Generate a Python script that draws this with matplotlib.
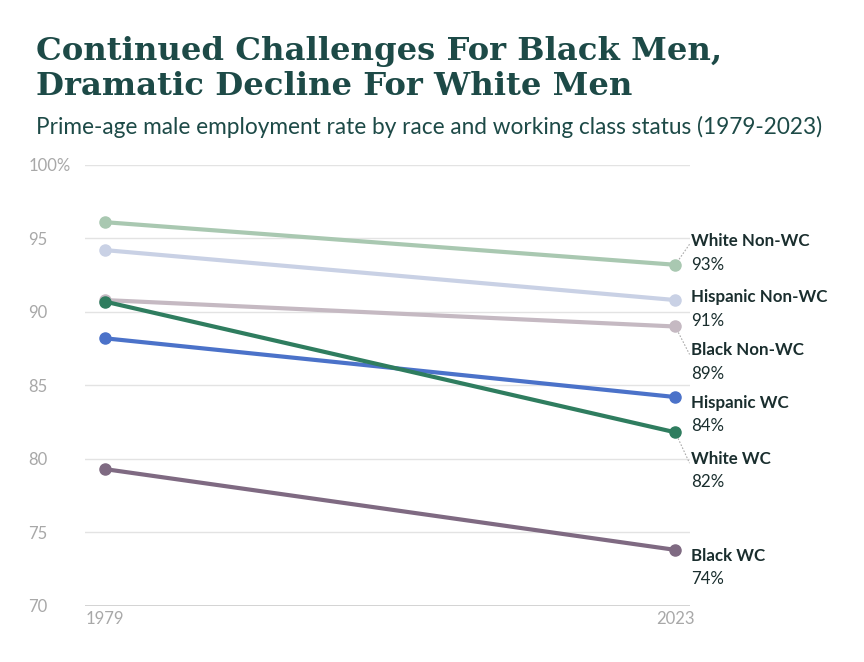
import matplotlib
matplotlib.use("Agg")
import matplotlib.pyplot as plt

years = [1979, 2023]
groups = ["White Non-WC", "Hispanic Non-WC", "Black Non-WC", "Hispanic WC", "White WC", "Black WC"]
v1979 = [96.1, 94.2, 90.8, 88.2, 90.7, 79.3]
v2023 = [93.2, 90.8, 89.0, 84.2, 81.8, 73.8]
colors = ["#a9c8b1", "#c9d1e5", "#c5b9c2", "#4b72c9", "#2f7d5f", "#7f6a82"]
label_y = [94.8, 91.0, 87.4, 83.8, 80.0, 73.4]

fig = plt.figure(figsize=(8.64, 6.62), dpi=100)
ax = fig.add_axes([0.098, 0.085, 0.701, 0.666])
ax.set_xlim(1977.46, 2024.16)
ax.set_ylim(70, 100)

for y in range(75, 101, 5):
    ax.axhline(y, color="#e3e3e3", lw=1, zorder=0)
ax.axhline(70, color="#cccccc", lw=1.2, zorder=0)

zo = {0: 2, 1: 2, 2: 2, 3: 3, 4: 4, 5: 3}
for i in range(len(groups)):
    ax.plot(years, [v1979[i], v2023[i]], color=colors[i], lw=3, marker="o", ms=8, zorder=zo[i])
    ly = label_y[i]
    if abs(ly - v2023[i]) > 0.8:
        ax.plot([2023, 2024.1], [v2023[i], ly - 0.3 if ly < v2023[i] else ly - 0.2], color="#aaaaaa",
                lw=0.8, ls=(0, (1.5, 1.5)), zorder=1, clip_on=False)
    ax.text(2024.2, ly, groups[i], fontsize=12.2, fontweight="bold", color="#1a2e2e",
            family="Lato", va="center", ha="left", clip_on=False)
    ax.text(2024.2, ly - 1.6, f"{round(v2023[i]):.0f}%", fontsize=12.2, color="#1a2e2e",
            family="Lato", va="center", ha="left", clip_on=False)

ax.set_yticks([70, 75, 80, 85, 90, 95, 100])
ax.set_yticklabels(["70", "75", "80", "85", "90", "95", "100%"])
ax.set_xticks(years)
ax.set_xticklabels([str(y) for y in years])
for s in ax.spines.values():
    s.set_visible(False)
ax.tick_params(length=0, labelsize=12, labelcolor="#a8a8a8")
for t in ax.get_yticklabels():
    t.set_horizontalalignment("left")
    t.set_x(-0.085)
    t.set_family("Lato")
for t in ax.get_xticklabels():
    t.set_family("Lato")
ax.tick_params(axis="x", pad=4)

fig.text(0.042, 0.945, "Continued Challenges For Black Men,\nDramatic Decline For White Men",
         fontsize=23.2, fontweight="bold", family="DejaVu Serif", color="#1d4a47",
         va="top", ha="left", linespacing=1.15)
fig.text(0.042, 0.808, "Prime-age male employment rate by race and working class status (1979-2023)",
         fontsize=16.3, family="Lato", color="#1d4a47", va="center", ha="left")

fig.savefig("out.png", dpi=100, facecolor="white")
